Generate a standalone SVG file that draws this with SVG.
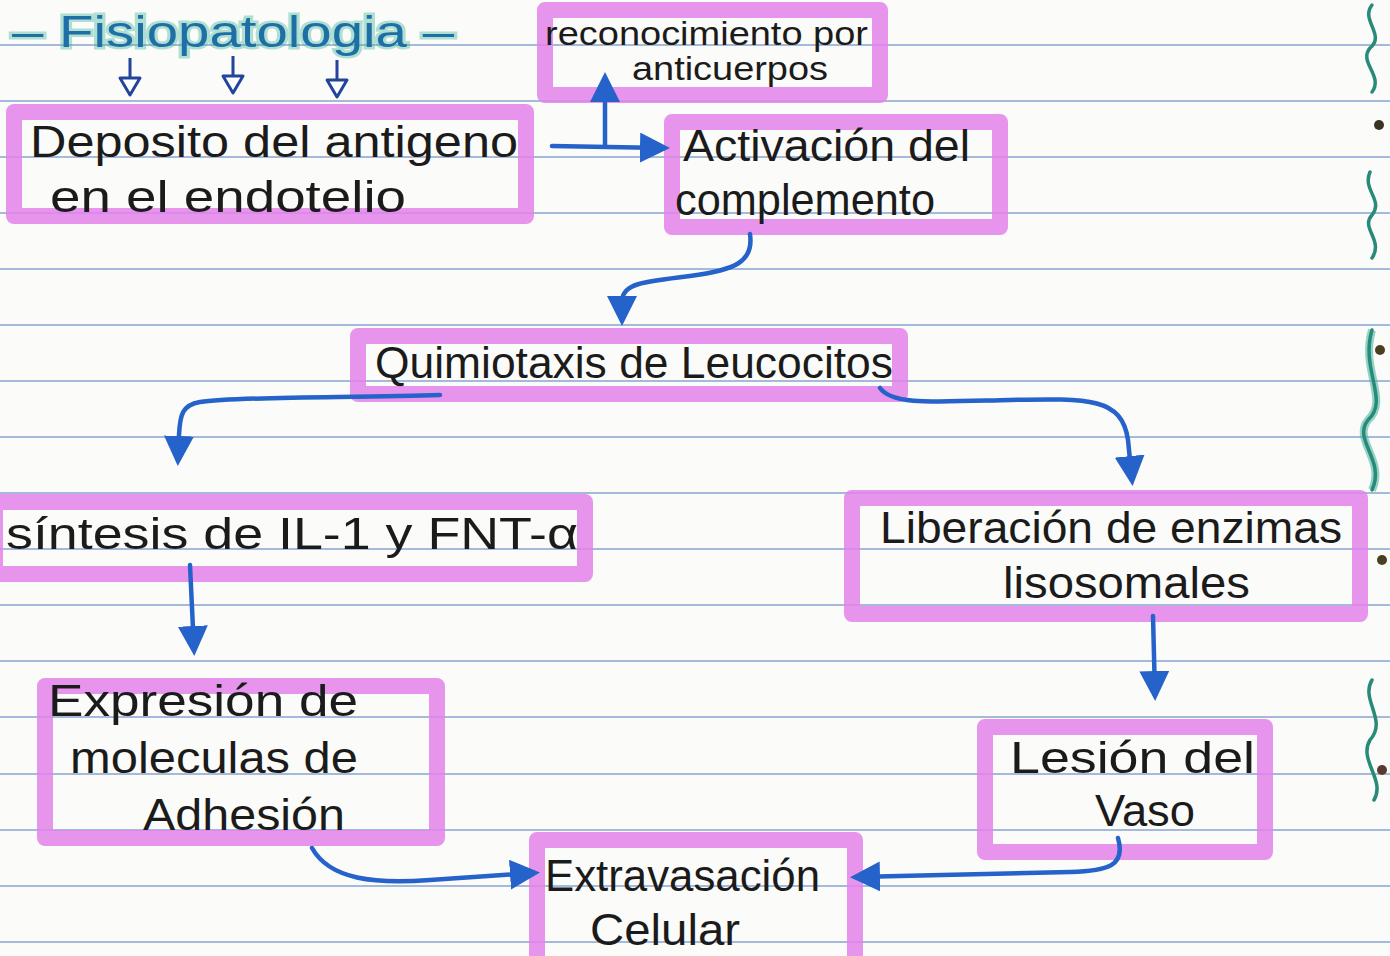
<svg xmlns="http://www.w3.org/2000/svg" width="1390" height="956" viewBox="0 0 1390 956">
<style>
.rule{stroke:#6d8fc6;stroke-width:1.6;opacity:.8}
.hl{fill:none;stroke:#e382ea;stroke-width:16;opacity:.85;stroke-linejoin:round}
.t{font-family:"Liberation Sans",Arial,sans-serif;fill:#1b1b1b;font-size:44px}
.s{font-size:34px}
.c{fill:none;stroke:#2562c9;stroke-width:4.5;stroke-linecap:round;stroke-linejoin:round}
.ho{fill:#fff;stroke:#24439a;stroke-width:3;stroke-linejoin:round}
.br{fill:none;stroke:#2a8a7a;stroke-width:3.5;stroke-linecap:round}
</style>
<defs>
<marker id="ah" viewBox="0 0 10 10" refX="8" refY="5" markerWidth="30" markerHeight="30" markerUnits="userSpaceOnUse" orient="auto">
<path d="M0,0 L10,5 L0,10 z" fill="#2562c9"/>
</marker>
</defs>
<rect width="1390" height="956" fill="#fbfbf9"/>
<g id="paper">
<line class="rule" x1="0" y1="45" x2="1390" y2="45"/>
<line class="rule" x1="0" y1="101" x2="1390" y2="101"/>
<line class="rule" x1="0" y1="157" x2="1390" y2="157"/>
<line class="rule" x1="0" y1="213" x2="1390" y2="213"/>
<line class="rule" x1="0" y1="269" x2="1390" y2="269"/>
<line class="rule" x1="0" y1="325" x2="1390" y2="325"/>
<line class="rule" x1="0" y1="381" x2="1390" y2="381"/>
<line class="rule" x1="0" y1="437" x2="1390" y2="437"/>
<line class="rule" x1="0" y1="493" x2="1390" y2="493"/>
<line class="rule" x1="0" y1="549" x2="1390" y2="549"/>
<line class="rule" x1="0" y1="605" x2="1390" y2="605"/>
<line class="rule" x1="0" y1="661" x2="1390" y2="661"/>
<line class="rule" x1="0" y1="717" x2="1390" y2="717"/>
<line class="rule" x1="0" y1="774" x2="1390" y2="774"/>
<line class="rule" x1="0" y1="830" x2="1390" y2="830"/>
<line class="rule" x1="0" y1="886" x2="1390" y2="886"/>
<line class="rule" x1="0" y1="942" x2="1390" y2="942"/>
<path class="br" d="M1372 5 C1360 20,1386 35,1370 48 C1358 62,1384 76,1372 92"/>
<path class="br" d="M1370 172 C1362 190,1384 200,1372 215 C1360 228,1384 240,1372 258"/>
<path d="M1372 330 C1360 370,1390 400,1368 420 C1352 440,1386 460,1372 490" fill="none" stroke="#4fb9a3" stroke-width="8" opacity=".6"/>
<path class="br" d="M1372 330 C1360 370,1390 400,1368 420 C1352 440,1386 460,1372 490"/>
<path class="br" d="M1372 680 C1360 700,1388 720,1370 740 C1358 760,1386 780,1374 800" stroke="#1f3a30"/>
<circle cx="1379" cy="125" r="5" fill="#3a3322"/>
<circle cx="1380" cy="350" r="5" fill="#4a4020"/>
<circle cx="1382" cy="560" r="5" fill="#4a4020"/>
<circle cx="1382" cy="770" r="5" fill="#5a3a30"/>
</g>
<g id="title">
<text x="12" y="47" font-family="Liberation Sans,Arial,sans-serif" font-size="44" fill="none" stroke="#3fb59a" stroke-width="5" opacity=".4" textLength="442" lengthAdjust="spacingAndGlyphs">– Fisiopatologia –</text>
<text x="12" y="47" font-family="Liberation Sans,Arial,sans-serif" font-size="44" fill="#1d6fa6" textLength="442" lengthAdjust="spacingAndGlyphs">– Fisiopatologia –</text>
<path class="ho" d="M130 58 V78 M120 78 H140 L130 95 Z"/>
<path class="ho" d="M233 56 V76 M223 76 H243 L233 93 Z"/>
<path class="ho" d="M337 60 V80 M327 80 H347 L337 97 Z"/>
</g>
<g id="n-deposito">
<rect class="hl" x="14" y="112" width="512" height="104"/>
<text class="t" x="30" y="157" textLength="488" lengthAdjust="spacingAndGlyphs">Deposito del antigeno</text>
<text class="t" x="50" y="212" textLength="356" lengthAdjust="spacingAndGlyphs">en el endotelio</text>
</g>
<g id="n-reconocimiento">
<rect class="hl" x="545" y="10" width="335" height="85"/>
<text class="t s" x="545" y="45" textLength="323" lengthAdjust="spacingAndGlyphs">reconocimiento por</text>
<text class="t s" x="632" y="80" textLength="196" lengthAdjust="spacingAndGlyphs">anticuerpos</text>
</g>
<g id="n-activacion">
<rect class="hl" x="672" y="122" width="328" height="105"/>
<text class="t" x="683" y="161" textLength="287" lengthAdjust="spacingAndGlyphs">Activación del</text>
<text class="t" x="675" y="215" textLength="260" lengthAdjust="spacingAndGlyphs">complemento</text>
</g>
<g id="n-quimiotaxis">
<rect class="hl" x="358" y="336" width="542" height="58"/>
<text class="t" x="375" y="378" textLength="518" lengthAdjust="spacingAndGlyphs">Quimiotaxis de Leucocitos</text>
</g>
<g id="n-sintesis">
<rect class="hl" x="-5" y="502" width="590" height="72"/>
<text class="t" x="6" y="549" textLength="572" lengthAdjust="spacingAndGlyphs">síntesis de IL-1 y FNT-α</text>
</g>
<g id="n-liberacion">
<rect class="hl" x="852" y="498" width="508" height="116"/>
<text class="t" x="880" y="543" textLength="462" lengthAdjust="spacingAndGlyphs">Liberación de enzimas</text>
<text class="t" x="1003" y="598" textLength="247" lengthAdjust="spacingAndGlyphs">lisosomales</text>
</g>
<g id="n-expresion">
<rect class="hl" x="45" y="686" width="392" height="152"/>
<text class="t" x="48" y="716" textLength="310" lengthAdjust="spacingAndGlyphs">Expresión de</text>
<text class="t" x="70" y="773" textLength="288" lengthAdjust="spacingAndGlyphs">moleculas de</text>
<text class="t" x="143" y="830" textLength="202" lengthAdjust="spacingAndGlyphs">Adhesión</text>
</g>
<g id="n-lesion">
<rect class="hl" x="985" y="727" width="280" height="125"/>
<text class="t" x="1010" y="773" textLength="245" lengthAdjust="spacingAndGlyphs">Lesión del</text>
<text class="t" x="1095" y="826" textLength="100" lengthAdjust="spacingAndGlyphs">Vaso</text>
</g>
<g id="n-extravasacion">
<rect class="hl" x="537" y="840" width="318" height="140"/>
<text class="t" x="545" y="891" textLength="275" lengthAdjust="spacingAndGlyphs">Extravasación</text>
<text class="t" x="590" y="945" textLength="150" lengthAdjust="spacingAndGlyphs">Celular</text>
</g>
<g id="connectors">
<path class="c" d="M552 146 L664 148" marker-end="url(#ah)"/>
<path class="c" d="M605 146 L605 78" marker-end="url(#ah)"/>
<path class="c" d="M750 234 C754 262,735 270,690 276 C640 282,624 284,622 300 L622 320" marker-end="url(#ah)"/>
<path class="c" d="M440 395 C360 398,240 396,200 402 C182 405,180 415,179 435 L178 460" marker-end="url(#ah)"/>
<path class="c" d="M880 388 C892 405,930 402,1010 400 C1090 398,1122 398,1128 440 L1132 480" marker-end="url(#ah)"/>
<path class="c" d="M190 565 L194 650" marker-end="url(#ah)"/>
<path class="c" d="M1153 616 L1155 695" marker-end="url(#ah)"/>
<path class="c" d="M312 848 C330 880,375 884,430 880 L534 873" marker-end="url(#ah)"/>
<path class="c" d="M1118 838 C1126 866,1108 871,1070 872 L856 877" marker-end="url(#ah)"/>
</g>
</svg>
